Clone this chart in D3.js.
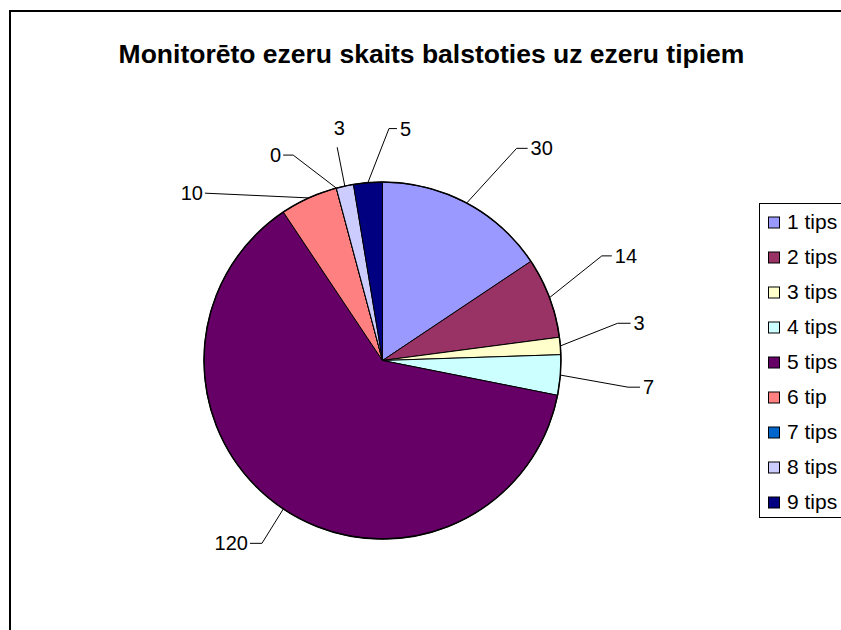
<!DOCTYPE html>
<html>
<head>
<meta charset="utf-8">
<script src="https://cdn.jsdelivr.net/npm/d3@7"></script>
<style>
  body { margin: 0; background: #fff; }
  svg { display: block; font-family: "Liberation Sans", Arial, sans-serif; }
</style>
</head>
<body>
<div id="chart"></div>
<script>
const title = "Monitorēto ezeru skaits balstoties uz ezeru tipiem";
const categories = ["1 tips", "2 tips", "3 tips", "4 tips", "5 tips", "6 tip", "7 tips", "8 tips", "9 tips"];
const values = [30, 14, 3, 7, 120, 10, 0, 3, 5];
const colors = ["#9999FF", "#993366", "#FFFFCC", "#CCFFFF", "#660066", "#FF8080", "#0066CC", "#CCCCFF", "#000080"];

// hand placed label anchors (angle in degrees, distance from centre), like excel did
const labelAngle = [32.3, 64.5, 81, 96.2, 213.4, 313.3, 336.5, 348, 1.6];
const labelDist = [251, 243, 238, 247, 219, 244, 224, 218, 232];
const labelSide = ["right", "right", "right", "right", "left", "left", "left", "top", "right"];
const labelTick = [11, 10, 13, 12, 12, 0, 10, 0, 8];

const width = 841, height = 630;
const cx = 382.5, cy = 360.5, r = 178.5;

const svg = d3.select("#chart").append("svg")
    .attr("width", width)
    .attr("height", height);

// outer frame (runs off the right and bottom)
svg.append("rect")
    .attr("x", 10)
    .attr("y", 11)
    .attr("width", 900)
    .attr("height", 700)
    .attr("fill", "none")
    .attr("stroke", "black")
    .attr("stroke-width", 2);

svg.append("text")
    .attr("x", 431.5)
    .attr("y", 63)
    .attr("text-anchor", "middle")
    .attr("font-weight", "bold")
    .attr("font-size", "26.5px")
    .text(title);

const rows = categories.map((c, i) => ({cat: c, value: values[i], color: colors[i], i: i}));

const pie = d3.pie()
    .sort(null)
    .value(d => d.value);

const arcs = pie(rows);

const arc = d3.arc().innerRadius(0).outerRadius(r);
const edge = d3.arc().innerRadius(r).outerRadius(r);

const g = svg.append("g")
    .attr("transform", `translate(${cx},${cy})`);

g.selectAll("path.slice")
  .data(arcs)
  .join("path")
    .attr("class", "slice")
    .attr("d", arc)
    .attr("fill", d => d.data.color)
    .attr("stroke", "black")
    .attr("stroke-width", 1)
    .attr("stroke-linejoin", "round");

g.append("circle")
    .attr("r", r)
    .attr("fill", "none")
    .attr("stroke", "black")
    .attr("stroke-width", 1.5);

// leader lines and labels
const lab = g.append("g");
arcs.forEach(d => {
  const i = d.data.i;
  const p0 = edge.centroid(d);
  const p1 = d3.pointRadial(labelAngle[i] * Math.PI / 180, labelDist[i]);
  const side = labelSide[i];
  let p2 = p1;
  if (side === "right") p2 = [p1[0] + labelTick[i], p1[1]];
  if (side === "left") p2 = [p1[0] - labelTick[i], p1[1]];

  lab.append("path")
      .attr("d", d3.line()([p0, p1, p2]))
      .attr("fill", "none")
      .attr("stroke", "black")
      .attr("stroke-width", 1);

  const t = lab.append("text")
      .attr("font-size", "20px")
      .text(d.data.value);
  if (side === "right") {
    t.attr("x", p2[0] + 3).attr("y", p2[1] + 7).attr("text-anchor", "start");
  } else if (side === "left") {
    t.attr("x", p2[0] - 2).attr("y", p2[1] + 7).attr("text-anchor", "end");
  } else {
    t.attr("x", p1[0] + 2).attr("y", p1[1] - 12).attr("text-anchor", "middle");
  }
});

// legend
const legend = svg.append("g");
legend.append("rect")
    .attr("x", 759.5)
    .attr("y", 203.5)
    .attr("width", 120)
    .attr("height", 314)
    .attr("fill", "white")
    .attr("stroke", "black")
    .attr("stroke-width", 1);

const ly = d3.scaleBand()
    .domain(categories)
    .range([204.5, 204.5 + 35 * categories.length]);

const item = legend.selectAll("g.item")
  .data(rows)
  .join("g")
    .attr("class", "item")
    .attr("transform", d => `translate(0,${ly(d.cat) + ly.bandwidth() / 2})`);

item.append("rect")
    .attr("x", 768.5)
    .attr("y", -5)
    .attr("width", 11)
    .attr("height", 11)
    .attr("fill", d => d.color)
    .attr("stroke", "black")
    .attr("stroke-width", 1);

item.append("text")
    .attr("x", 787)
    .attr("y", 7)
    .attr("font-size", "21px")
    .text(d => d.cat);
</script>
</body>
</html>
